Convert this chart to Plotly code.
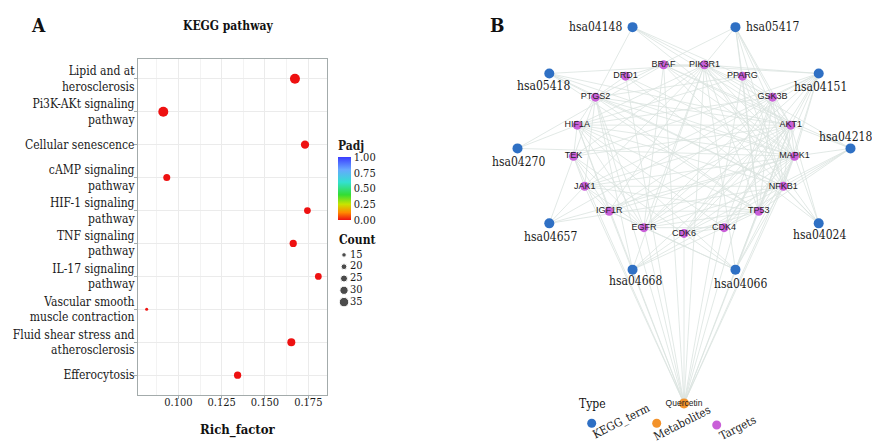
import math
import plotly.graph_objects as go

W, H = 872, 442
SERIF = "DejaVu Serif Condensed, DejaVu Serif, Liberation Serif, serif"
SANS = "Liberation Sans, Arial, sans-serif"
INK = "#1a1a1a"

# ---------------- Panel A data ----------------
pathway_labels = [
    "Lipid and at<br>herosclerosis",
    "Pi3K-AKt signaling<br>pathway",
    "Cellular senescence",
    "cAMP signaling<br>pathway",
    "HIF-1 signaling<br>pathway",
    "TNF signaling<br>pathway",
    "IL-17 signaling<br>pathway",
    "Vascular smooth<br>muscle contraction",
    "Fluid shear stress and<br>atherosclerosis",
    "Efferocytosis",
]
rich_factor = [0.1673, 0.0913, 0.1731, 0.0933, 0.1745, 0.1663, 0.1808, 0.0817, 0.1652, 0.1342]
counts = [37, 37, 30, 25, 24, 26, 24, 9, 29, 26]
padj = [1.2e-12, 3.5e-10, 2.1e-9, 4.4e-6, 6.0e-7, 1.3e-7, 8.2e-8, 3.1e-3, 5.5e-10, 2.7e-6]
count_breaks = [15, 20, 25, 30, 35]
padj_ticks = [0.0, 0.25, 0.50, 0.75, 1.00]
x_ticks = [0.100, 0.125, 0.150, 0.175]

# ---------------- Panel B data ----------------
targets = ["PIK3R1", "PPARG", "GSK3B", "AKT1", "MAPK1", "NFKB1", "TP53", "CDK4", "CDK6",
           "EGFR", "IGF1R", "JAK1", "TEK", "HIF1A", "PTGS2", "DRD1", "BRAF"]
kegg_terms = ["hsa05417", "hsa04151", "hsa04218", "hsa04024", "hsa04066",
              "hsa04668", "hsa04657", "hsa04270", "hsa05418", "hsa04148"]
metabolites = ["Quercetin"]

kegg_links = {
    "hsa05417": ["PPARG", "GSK3B", "AKT1", "MAPK1", "NFKB1", "TP53", "PIK3R1", "PTGS2"],
    "hsa04151": ["GSK3B", "AKT1", "PIK3R1", "EGFR", "IGF1R", "JAK1", "TEK", "CDK4", "CDK6", "TP53", "NFKB1", "MAPK1", "BRAF"],
    "hsa04218": ["MAPK1", "NFKB1", "TP53", "CDK4", "CDK6", "AKT1", "PIK3R1", "BRAF"],
    "hsa04024": ["NFKB1", "AKT1", "BRAF", "PIK3R1", "DRD1", "MAPK1"],
    "hsa04066": ["HIF1A", "EGFR", "IGF1R", "AKT1", "PIK3R1", "NFKB1", "MAPK1", "TEK"],
    "hsa04668": ["PTGS2", "NFKB1", "AKT1", "MAPK1", "PIK3R1", "CDK4"],
    "hsa04657": ["PTGS2", "NFKB1", "MAPK1", "GSK3B", "JAK1"],
    "hsa04270": ["MAPK1", "BRAF", "HIF1A"],
    "hsa05418": ["AKT1", "PIK3R1", "NFKB1", "TP53", "MAPK1", "PTGS2"],
    "hsa04148": ["PTGS2", "PIK3R1", "PPARG", "AKT1", "MAPK1"],
}
ppi_links = {
    "AKT1": ["PIK3R1", "GSK3B", "MAPK1", "NFKB1", "TP53", "EGFR", "IGF1R", "HIF1A", "PTGS2", "PPARG", "BRAF", "TEK", "JAK1", "CDK4", "CDK6"],
    "TP53": ["MAPK1", "NFKB1", "EGFR", "HIF1A", "PTGS2", "CDK4", "CDK6", "GSK3B", "PIK3R1", "JAK1", "PPARG", "IGF1R"],
    "EGFR": ["PIK3R1", "MAPK1", "NFKB1", "HIF1A", "PTGS2", "JAK1", "IGF1R", "BRAF", "GSK3B", "CDK4", "TEK"],
    "MAPK1": ["PIK3R1", "NFKB1", "HIF1A", "PTGS2", "BRAF", "GSK3B", "JAK1", "IGF1R", "PPARG", "CDK4", "DRD1"],
    "NFKB1": ["PIK3R1", "HIF1A", "PTGS2", "PPARG", "GSK3B", "JAK1"],
    "PIK3R1": ["HIF1A", "IGF1R", "JAK1", "TEK", "GSK3B", "BRAF"],
    "HIF1A": ["PTGS2", "GSK3B", "IGF1R", "PPARG", "TEK", "CDK4"],
    "PTGS2": ["PPARG", "JAK1", "DRD1"],
    "GSK3B": ["CDK4", "CDK6", "PPARG"],
    "CDK4": ["CDK6"],
    "IGF1R": ["JAK1", "TEK"],
    "BRAF": ["DRD1"],
    "JAK1": ["TEK"],
}
metabolite_links = {"Quercetin": targets}

# label placement for KEGG nodes: (xanchor, xshift px, yshift px)
kegg_label_place = {
    "hsa04148": ("right", -9, 0), "hsa05417": ("left", 9, 0),
    "hsa05418": ("center", -6, -13), "hsa04151": ("center", 2, -14),
    "hsa04270": ("center", 1, -14), "hsa04218": ("center", -5, 11),
    "hsa04657": ("center", 1, -14), "hsa04024": ("center", 1, -12),
    "hsa04668": ("center", 3, -11), "hsa04066": ("center", 5, -14),
}
type_names = ["KEGG_term", "Metabolites", "Targets"]
type_colors = ["#2f70c4", "#f3922a", "#c95fd8"]


def circular(names, radius, start_deg):
    n = len(names)
    pos = {}
    for k, nm in enumerate(names):
        a = math.radians(start_deg + 360.0 * k / n)
        pos[nm] = (radius * math.sin(a), radius * math.cos(a))
    return pos


pos = {}
pos.update(circular(targets, 1.0, 180.0 / len(targets)))
pos.update(circular(kegg_terms, 1.5, 18.0))
pos["Quercetin"] = (0.0, -3.0)


def dot_size(c):
    return 4.5 + (c - 15) * 0.25


fig = go.Figure()

# ---- Panel A dots ----
fig.add_trace(go.Scatter(
    x=rich_factor, y=list(range(len(pathway_labels))), mode="markers",
    marker=dict(size=[dot_size(c) for c in counts], color=padj, cmin=0, cmax=1, opacity=1,
                colorscale=[[0, "#ee1111"], [0.12, "#ff8a00"], [0.25, "#c8e400"],
                            [0.4, "#33dd33"], [0.6, "#33e0d0"], [0.8, "#66a8ff"], [1, "#3a3cff"]],
                line=dict(width=0),
                colorbar=dict(x=338 / W, xanchor="left", xpad=0, y=(H - 179) / H, yanchor="middle",
                              ypad=0, len=82, lenmode="pixels", thickness=13, thicknessmode="pixels",
                              outlinewidth=0, ticks="", tickvals=padj_ticks,
                              ticktext=[f"{v:.2f}" for v in padj_ticks],
                              tickfont=dict(family=SERIF, size=11, color=INK),
                              title=dict(text="<b>Padj</b>", side="top",
                                         font=dict(family=SERIF, size=12, color=INK)))),
    xaxis="x", yaxis="y", showlegend=False, hoverinfo="skip"))

# ---- Count legend ----
fig.add_trace(go.Scatter(
    x=[14] * len(count_breaks), y=list(range(len(count_breaks))), mode="markers",
    marker=dict(size=[dot_size(c) for c in count_breaks], color="black"),
    xaxis="x3", yaxis="y3", showlegend=False, hoverinfo="skip"))
fig.add_trace(go.Scatter(
    x=[20] * len(count_breaks), y=list(range(len(count_breaks))), mode="text",
    text=[str(c) for c in count_breaks], textposition="middle right",
    textfont=dict(family=SERIF, size=11, color=INK),
    xaxis="x3", yaxis="y3", showlegend=False, hoverinfo="skip"))

# ---- Panel B edges ----
ex, ey = [], []
for group in (kegg_links, ppi_links, metabolite_links):
    for a, bs in group.items():
        for b in bs:
            ex += [pos[a][0], pos[b][0], None]
            ey += [pos[a][1], pos[b][1], None]
fig.add_trace(go.Scatter(x=ex, y=ey, mode="lines", line=dict(color="#dbe3e0", width=0.8),
                         xaxis="x2", yaxis="y2", showlegend=False, hoverinfo="skip"))

# ---- Panel B nodes ----
fig.add_trace(go.Scatter(
    x=[pos[k][0] for k in kegg_terms], y=[pos[k][1] for k in kegg_terms], mode="markers",
    marker=dict(size=10, color=type_colors[0]), xaxis="x2", yaxis="y2",
    showlegend=False, hoverinfo="skip"))
fig.add_trace(go.Scatter(
    x=[pos[t][0] for t in targets], y=[pos[t][1] for t in targets], mode="markers+text",
    text=targets, textposition="middle center",
    textfont=dict(family=SANS, size=9, color="#222222"),
    marker=dict(size=9, color=type_colors[2]), xaxis="x2", yaxis="y2",
    showlegend=False, hoverinfo="skip"))
fig.add_trace(go.Scatter(
    x=[pos[m][0] for m in metabolites], y=[pos[m][1] for m in metabolites], mode="markers+text",
    text=metabolites, textposition="middle center",
    textfont=dict(family=SANS, size=8.5, color="#222222"),
    marker=dict(size=10, color=type_colors[1]), xaxis="x2", yaxis="y2",
    showlegend=False, hoverinfo="skip"))

annotations = []
for k in kegg_terms:
    xa, dx, dy = kegg_label_place[k]
    annotations.append(dict(x=pos[k][0], y=pos[k][1], xref="x2", yref="y2", text=k,
                            showarrow=False, xanchor=xa, yanchor="middle", xshift=dx, yshift=dy,
                            font=dict(family=SERIF, size=12, color=INK)))

# ---- Type legend keys ----
key_px = [(591.7, 423.3), (656.7, 423.3), (716.7, 425.0)]
lab_px = [(621, 421), (682, 423), (737, 428)]
shapes = []
for (kx, ky), (lx, ly), name, col in zip(key_px, lab_px, type_names, type_colors):
    r = 4.5
    shapes.append(dict(type="circle", xref="paper", yref="paper",
                       x0=(kx - r) / W, x1=(kx + r) / W, y0=(H - ky - r) / H, y1=(H - ky + r) / H,
                       fillcolor=col, line=dict(width=0)))
    annotations.append(dict(x=lx / W, y=(H - ly) / H, xref="paper", yref="paper", text=name,
                            showarrow=False, textangle=-27, xanchor="center", yanchor="middle",
                            font=dict(family=SERIF, size=11.5, color=INK)))


def ann(text, x, y, size, xanchor="center", bold=True):
    annotations.append(dict(x=x / W, y=(H - y) / H, xref="paper", yref="paper",
                            text=f"<b>{text}</b>" if bold else text, showarrow=False,
                            xanchor=xanchor, yanchor="middle",
                            font=dict(family=SERIF, size=size, color="#111")))


ann("A", 38, 25, 19)
ann("B", 497, 25, 19)
ann("KEGG pathway", 228, 26, 12)
ann("Rich_factor", 238, 430, 13)
ann("Count", 337, 240, 12, xanchor="left")
ann("Type", 577, 404, 12, xanchor="left", bold=False)

cx, cy, rx, ry = 684.0, 148.4, 111.0, 85.0
frame = "#a3abab"
fig.update_layout(
    width=W, height=H, margin=dict(l=0, r=0, t=0, b=0),
    paper_bgcolor="white", plot_bgcolor="white",
    shapes=shapes, annotations=annotations,
    xaxis=dict(domain=[138 / W, 327 / W], range=[0.0767, 0.1858], tickvals=x_ticks,
               ticktext=[f"{v:.3f}" for v in x_ticks], ticks="outside", ticklen=3,
               ticklabelstandoff=-6,
               tickcolor=frame, showline=True, linecolor=frame, linewidth=1.2, mirror=True,
               showgrid=True, gridcolor="#ebebeb", gridwidth=1, zeroline=False,
               minor=dict(dtick=0.0125, tick0=0.0875, showgrid=True, gridcolor="#f3f3f3"),
               tickfont=dict(family=SERIF, size=11, color=INK)),
    yaxis=dict(domain=[(H - 395) / H, (H - 59) / H], range=[9.6, -0.6],
               tickvals=list(range(len(pathway_labels))), ticktext=pathway_labels,
               ticks="outside", ticklen=3, ticklabelstandoff=-3,
               tickcolor=frame, showline=True, linecolor=frame,
               linewidth=1.2, mirror=True, showgrid=True, gridcolor="#ebebeb", zeroline=False,
               tickfont=dict(family=SERIF, size=12, color=INK)),
    xaxis2=dict(domain=[480 / W, 1], range=[(480 - cx) / rx, (872 - cx) / rx], visible=False),
    yaxis2=dict(domain=[0, 1], range=[(cy - H) / ry, cy / ry], visible=False, anchor="x2"),
    xaxis3=dict(domain=[330 / W, 400 / W], range=[0, 70], visible=False, anchor="y3"),
    yaxis3=dict(domain=[(H - 308) / H, (H - 249) / H], range=[4.5, -0.5], visible=False, anchor="x3"),
)
fig.write_html("out.html", config={"displayModeBar": False},
               post_script="document.body.style.margin='0px';document.body.style.overflow='hidden';")
